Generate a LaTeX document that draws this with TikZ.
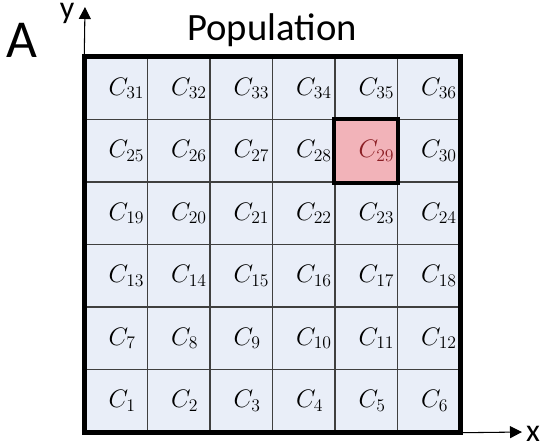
\RequirePackage{fix-cm}
\documentclass[tikz,border=0pt]{standalone}
\usepackage{fontspec}
\setmainfont{Carlito}
\usetikzlibrary{arrows.meta, positioning, calc}
\usepackage{xcolor}
\definecolor{GridBlue}{HTML}{E9EEF8}
\definecolor{GridLine}{HTML}{3F3F3F}
\definecolor{HotFill}{HTML}{F2B3B9}
\definecolor{HotText}{HTML}{8B1E24}
\tikzset{
    % Cell styles
    cellbox/.style={
        rectangle,
        draw=GridLine,
        fill=GridBlue,
        line width=1.1pt,
        minimum width=46.875pt,
        minimum height=46.875pt,
        inner sep=0pt
    },
    celllabel/.style={
        anchor=west,
        inner sep=0pt,
        font=\fontsize{19}{19}\selectfont
    },
    % Border styles
    outerline/.style={
        draw=black,
        line width=3.4pt
    },
    hotborder/.style={
        draw=black,
        line width=3pt
    },
    % Axis styles
    axisarrow/.style={
        -{Triangle[length=9pt,width=9pt]},
        line width=0.8pt,
        draw=black
    },
    axislabel/.style={
        inner sep=0pt,
        anchor=base,
        font=\fontsize{24}{24}\selectfont
    }
}

\begin{document}
\begin{tikzpicture}[x=0.75pt, y=-0.75pt]
    \useasboundingbox (0,0) rectangle (545,446);

    % cells, numbered from the bottom left
    \foreach \r in {0,...,5}{
        \foreach \c in {0,...,5}{
            \pgfmathtruncatemacro{\n}{6*\r+\c+1}
            \ifnum\n=29 \def\cellfill{HotFill}\def\labcolor{HotText}\else\def\cellfill{GridBlue}\def\labcolor{black}\fi
            \node[cellbox, fill=\cellfill] (cell\n) at ({116.25+62.5*\c},{400.75-62.5*\r}) {};
            \node[celllabel, text=\labcolor] (lab\n) at ($(cell\n.west)+(24,0)$) {$C_{\n}$};
        }
    }

    % axes
    \coordinate (ytip) at (85,7);
    \coordinate (xtip) at (522,432);
    \draw[axisarrow] (cell31.north west) -- (ytip);
    \draw[axisarrow] (cell6.south east) -- (xtip);
    \node[axislabel] (ylab) at (67,18) {y};
    \node[axislabel] (xlab) at (533,441) {x};

    % borders
    \draw[outerline] (cell1.south west) rectangle (cell36.north east);
    \draw[hotborder] (cell29.south west) rectangle (cell29.north east);

    \node[inner sep=0pt, anchor=base, font=\fontsize{40}{40}\selectfont] (panel) at (21.5,57) {A};
    \node[inner sep=0pt, anchor=base, font=\fontsize{29}{29}\selectfont] (title) at (272,40) {Population};
\end{tikzpicture}
\end{document}
